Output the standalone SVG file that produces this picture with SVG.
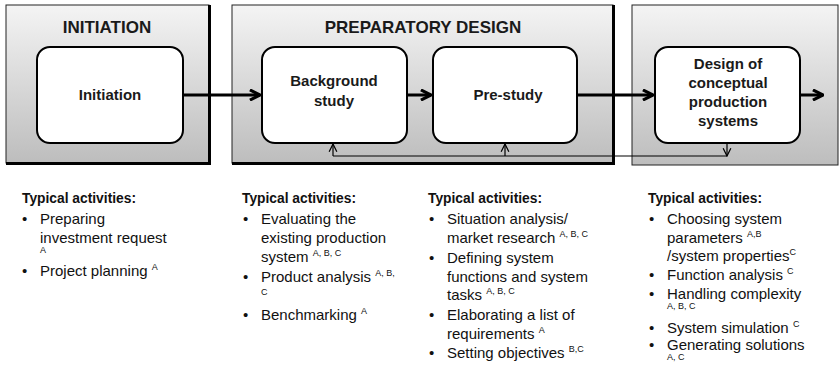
<svg xmlns="http://www.w3.org/2000/svg" width="839" height="373" viewBox="0 0 839 373">
<defs>
<linearGradient id="pg" x1="0" y1="0" x2="0" y2="1">
<stop offset="0" stop-color="#f4f4f4"/>
<stop offset="1" stop-color="#bdbdbd"/>
</linearGradient>
<marker id="ah" viewBox="0 0 10 10" refX="9" refY="5" markerWidth="4.2" markerHeight="4.2" orient="auto" markerUnits="strokeWidth">
<path d="M1,1 L9,5 L1,9" fill="none" stroke="#000" stroke-width="2.5"/>
</marker>
<marker id="ahs" viewBox="0 0 10 10" refX="9" refY="5" markerWidth="8" markerHeight="8" orient="auto" markerUnits="strokeWidth">
<path d="M1,1 L9,5 L1,9" fill="none" stroke="#000" stroke-width="1.3"/>
</marker>
</defs>
<style>
.panel{fill:url(#pg);stroke:#222;stroke-width:1}
.shadow{stroke:#000;stroke-width:3;fill:none}
.node{fill:#fff;stroke:#000;stroke-width:2}
.ptitle{font-family:"Liberation Sans",Arial,sans-serif;font-weight:bold;font-size:17px;fill:#1a1a1a;text-anchor:middle}
.nlabel{font-family:"Liberation Sans",Arial,sans-serif;font-weight:bold;font-size:15px;fill:#1a1a1a;text-anchor:middle}
.main{stroke:#000;stroke-width:3;fill:none}
.fb{stroke:#000;stroke-width:1.2;fill:none}
.head{font-family:"Liberation Sans",Arial,sans-serif;font-weight:bold;font-size:13.8px;fill:#111}
.it{font-family:"Liberation Sans",Arial,sans-serif;font-size:15px;fill:#111}
.sup{font-size:9px}
</style>

<g id="panel-initiation">
<rect class="panel" x="6" y="5" width="203" height="158"/>
<path class="shadow" d="M6,163.5 H209.5 V5"/>
<text class="ptitle" x="107" y="33">INITIATION</text>
</g>
<g id="panel-preparatory">
<rect class="panel" x="232" y="5" width="381" height="158"/>
<path class="shadow" d="M232,163.5 H613.5 V5"/>
<text class="ptitle" x="423" y="33">PREPARATORY DESIGN</text>
</g>
<g id="panel-design">
<rect class="panel" x="632" y="5" width="206" height="160" stroke="#444"/>
</g>

<g id="node-initiation">
<rect class="node" x="37" y="47" width="146" height="96" rx="13"/>
<text class="nlabel" x="110" y="100">Initiation</text>
</g>
<g id="node-background">
<rect class="node" x="262" y="47" width="145" height="96" rx="13"/>
<text class="nlabel" x="334" y="86">Background</text>
<text class="nlabel" x="334" y="106">study</text>
</g>
<g id="node-prestudy">
<rect class="node" x="433" y="47" width="144" height="96" rx="13"/>
<text class="nlabel" x="508" y="100">Pre-study</text>
</g>
<g id="node-design">
<rect class="node" x="655" y="47" width="145" height="96" rx="13"/>
<text class="nlabel" x="728" y="69">Design of</text>
<text class="nlabel" x="728" y="88">conceptual</text>
<text class="nlabel" x="728" y="107">production</text>
<text class="nlabel" x="728" y="126">systems</text>
</g>

<g id="connectors">
<line class="main" x1="183" y1="95" x2="260" y2="95" marker-end="url(#ah)"/>
<line class="main" x1="407" y1="95" x2="431" y2="95" marker-end="url(#ah)"/>
<line class="main" x1="577" y1="95" x2="653" y2="95" marker-end="url(#ah)"/>
<line class="main" x1="800" y1="95" x2="823" y2="95" marker-end="url(#ah)"/>
<line class="fb" x1="727" y1="143" x2="727" y2="156" marker-end="url(#ahs)"/>
<line class="fb" x1="727" y1="156" x2="333" y2="156"/>
<line class="fb" x1="333" y1="156" x2="333" y2="144" marker-end="url(#ahs)"/>
<line class="fb" x1="505" y1="156" x2="505" y2="144" marker-end="url(#ahs)"/>
</g>

<g id="activities-initiation">
<text class="head" x="22" y="203">Typical activities:</text>
<text class="it" x="22" y="224">•</text>
<text class="it" x="40" y="224">Preparing</text>
<text class="it" x="40" y="243">investment request</text>
<text class="it sup" x="40" y="253">A</text>
<text class="it" x="22" y="276">•</text>
<text class="it" x="40" y="276">Project planning <tspan class="sup" dy="-6">A</tspan></text>
</g>

<g id="activities-preparatory-1">
<text class="head" x="242" y="203">Typical activities:</text>
<text class="it" x="243" y="224">•</text>
<text class="it" x="261" y="224">Evaluating the</text>
<text class="it" x="261" y="243">existing production</text>
<text class="it" x="261" y="262">system <tspan class="sup" dy="-6">A, B, C</tspan></text>
<text class="it" x="243" y="282">•</text>
<text class="it" x="261" y="282">Product analysis <tspan class="sup" dy="-6">A, B,</tspan></text>
<text class="it sup" x="261" y="295">C</text>
<text class="it" x="243" y="320">•</text>
<text class="it" x="261" y="320">Benchmarking <tspan class="sup" dy="-6">A</tspan></text>
</g>

<g id="activities-preparatory-2">
<text class="head" x="428" y="203">Typical activities:</text>
<text class="it" x="429" y="224">•</text>
<text class="it" x="447" y="224">Situation analysis/</text>
<text class="it" x="447" y="243">market research  <tspan class="sup" dy="-6">A, B, C</tspan></text>
<text class="it" x="429" y="263">•</text>
<text class="it" x="447" y="263">Defining system</text>
<text class="it" x="447" y="282">functions and system</text>
<text class="it" x="447" y="300">tasks <tspan class="sup" dy="-6">A, B, C</tspan></text>
<text class="it" x="429" y="320">•</text>
<text class="it" x="447" y="320">Elaborating a list of</text>
<text class="it" x="447" y="339">requirements <tspan class="sup" dy="-6">A</tspan></text>
<text class="it" x="429" y="358">•</text>
<text class="it" x="447" y="358">Setting objectives <tspan class="sup" dy="-6">B,C</tspan></text>
</g>

<g id="activities-design">
<text class="head" x="648" y="203">Typical activities:</text>
<text class="it" x="649" y="224">•</text>
<text class="it" x="667" y="224">Choosing system</text>
<text class="it" x="667" y="243">parameters <tspan class="sup" dy="-6">A,B</tspan></text>
<text class="it" x="667" y="261">/system properties<tspan class="sup" dy="-6">C</tspan></text>
<text class="it" x="649" y="280">•</text>
<text class="it" x="667" y="280">Function analysis <tspan class="sup" dy="-6">C</tspan></text>
<text class="it" x="649" y="299">•</text>
<text class="it" x="667" y="299">Handling complexity</text>
<text class="it sup" x="667" y="309">A, B, C</text>
<text class="it" x="649" y="333">•</text>
<text class="it" x="667" y="333">System simulation <tspan class="sup" dy="-6">C</tspan></text>
<text class="it" x="649" y="350">•</text>
<text class="it" x="667" y="350">Generating solutions</text>
<text class="it sup" x="667" y="360">A, C</text>
</g>
</svg>
